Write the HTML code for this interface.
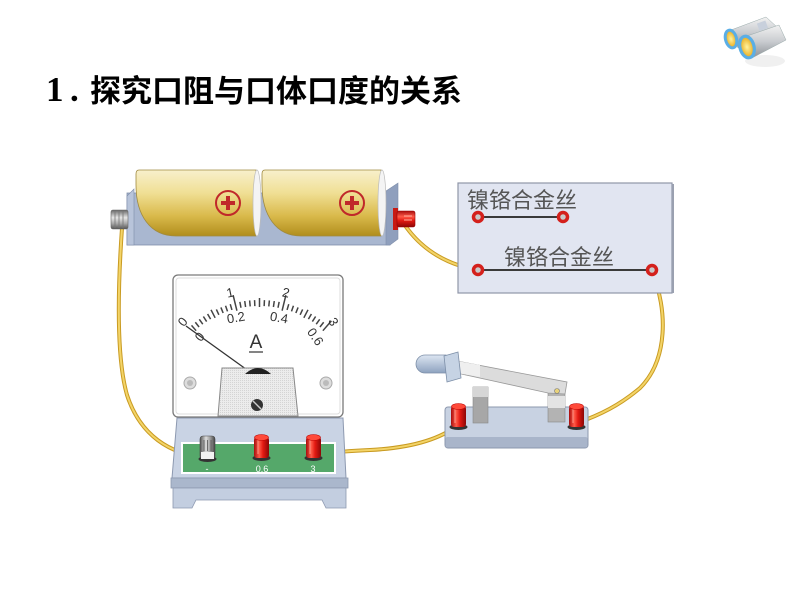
<!DOCTYPE html>
<html><head><meta charset="utf-8"><style>
html,body{margin:0;padding:0;background:#fff;}
#c{position:relative;width:800px;height:600px;overflow:hidden;background:#fff;}
.t{position:absolute;white-space:nowrap;color:#000;}
</style></head><body><div id="c">
<div class="t" style="left:46px;top:70px;font:bold 35px/40px 'Liberation Serif',serif;">1</div>
<div class="t" style="left:70px;top:70px;font:bold 35px/40px 'Liberation Serif',serif;">.</div>
<div class="t" style="left:90px;top:76px;font-weight:bold;font-size:31px;line-height:31px;font-family:'Liberation Sans','Noto Sans CJK SC',sans-serif;">探究口阻与口体口度的关系</div>
<svg width="800" height="600" viewBox="0 0 800 600" style="position:absolute;left:0;top:0" xmlns="http://www.w3.org/2000/svg">
<defs>
<linearGradient id="bat" x1="0" y1="0" x2="0" y2="1">
<stop offset="0" stop-color="#f8f0cc"/><stop offset="0.35" stop-color="#f0df94"/><stop offset="0.7" stop-color="#d9b94a"/><stop offset="1" stop-color="#b08d1c"/></linearGradient>
<linearGradient id="red" x1="0" y1="0" x2="1" y2="0">
<stop offset="0" stop-color="#a80d0d"/><stop offset="0.35" stop-color="#ff5a48"/><stop offset="0.6" stop-color="#e31a12"/><stop offset="1" stop-color="#8c0606"/></linearGradient>
<linearGradient id="redh" x1="0" y1="0" x2="0" y2="1">
<stop offset="0" stop-color="#a80d0d"/><stop offset="0.35" stop-color="#ff5a48"/><stop offset="0.6" stop-color="#e31a12"/><stop offset="1" stop-color="#8c0606"/></linearGradient>
<linearGradient id="grey" x1="0" y1="0" x2="1" y2="0">
<stop offset="0" stop-color="#555"/><stop offset="0.4" stop-color="#ddd"/><stop offset="0.7" stop-color="#999"/><stop offset="1" stop-color="#444"/></linearGradient>
<linearGradient id="greyh" x1="0" y1="0" x2="0" y2="1">
<stop offset="0" stop-color="#666"/><stop offset="0.4" stop-color="#e6e6e6"/><stop offset="0.7" stop-color="#aaa"/><stop offset="1" stop-color="#555"/></linearGradient>
<linearGradient id="silver" x1="0" y1="0" x2="0" y2="1">
<stop offset="0" stop-color="#f2f2f2"/><stop offset="0.5" stop-color="#c9ccd0"/><stop offset="1" stop-color="#8d9196"/></linearGradient>
<radialGradient id="lens" cx="0.5" cy="0.5" r="0.5">
<stop offset="0" stop-color="#fff3a0"/><stop offset="1" stop-color="#e7a918"/></radialGradient>
<linearGradient id="handle" x1="0" y1="0" x2="0" y2="1">
<stop offset="0" stop-color="#dde6f2"/><stop offset="1" stop-color="#8ea2bf"/></linearGradient>
<pattern id="dots" width="2" height="2" patternUnits="userSpaceOnUse">
<rect width="2" height="2" fill="#ececec"/><rect width="1" height="1" fill="#d4d4d4"/></pattern>
<g id="rt">
<ellipse cx="8.5" cy="24" rx="9" ry="3" fill="#333"/>
<rect x="1" y="3" width="15" height="21" rx="3" fill="url(#red)"/>
<line x1="5" y1="6" x2="5" y2="20" stroke="#ff9a8a" stroke-width="1"/>
<ellipse cx="8.5" cy="3.5" rx="7" ry="3" fill="#ff4a3a" stroke="#b00" stroke-width="0.6"/>
</g>
</defs>

<!-- binoculars -->
<ellipse cx="765" cy="61" rx="20" ry="6" fill="#f0f0f0"/>
<polygon points="731,30 766,17 777,27 738,48" fill="url(#silver)" stroke="#9aa" stroke-width="0.5"/>
<polygon points="747,36 779,25 786,40 752,58" fill="url(#silver)" stroke="#9aa" stroke-width="0.5"/>
<rect x="758" y="22" width="9" height="8" fill="#c8d0dc" transform="rotate(-20 762 26)"/>
<ellipse cx="731" cy="39" rx="5.5" ry="9" fill="url(#lens)" stroke="#5aaee6" stroke-width="3" transform="rotate(-15 731 39)"/>
<ellipse cx="747" cy="47" rx="7" ry="11" fill="url(#lens)" stroke="#5aaee6" stroke-width="3.2" transform="rotate(-15 747 47)"/>

<!-- wires -->
<g fill="none" stroke-linecap="round">
<path d="M122,228 C117,300 117,360 127,395 C140,435 170,455 206,457" stroke="#c99b22" stroke-width="4"/>
<path d="M122,228 C117,300 117,360 127,395 C140,435 170,455 206,457" stroke="#f3d468" stroke-width="2"/>
<path d="M404,224 Q430,262 478,270" stroke="#c99b22" stroke-width="4"/>
<path d="M404,224 Q430,262 478,270" stroke="#f3d468" stroke-width="2"/>
<path d="M652,272 C668,310 668,360 640,388 C620,405 600,415 577,423" stroke="#c99b22" stroke-width="4"/>
<path d="M652,272 C668,310 668,360 640,388 C620,405 600,415 577,423" stroke="#f3d468" stroke-width="2"/>
<path d="M458,425 Q430,447 370,450 T312,457" stroke="#c99b22" stroke-width="4"/>
<path d="M458,425 Q430,447 370,450 T312,457" stroke="#f3d468" stroke-width="2"/>
</g>

<!-- battery holder -->
<rect x="127" y="193" width="263" height="52" fill="#a9b7d0" stroke="#7f8eaa" stroke-width="0.8"/>
<polygon points="127,196 134,189 134,245 127,245" fill="#b8c4da" stroke="#7f8eaa" stroke-width="0.6"/>
<polygon points="386,191 398,183 398,239 390,245 386,245" fill="#8f9fbd" stroke="#7f8eaa" stroke-width="0.6"/>
<!-- cells -->
<path d="M139,170 H256 V236 H176 C150,236 136,215 136,185 V174 Q136,170 139,170 Z" fill="url(#bat)" stroke="#a08a40" stroke-width="0.8"/>
<ellipse cx="257" cy="203" rx="4" ry="33" fill="#f4f4f4" stroke="#bbb" stroke-width="0.7"/>
<path d="M265,170 H381 V236 H301 C276,236 262,215 262,185 V174 Q262,170 265,170 Z" fill="url(#bat)" stroke="#a08a40" stroke-width="0.8"/>
<ellipse cx="382" cy="203" rx="4" ry="33" fill="#f4f4f4" stroke="#bbb" stroke-width="0.7"/>
<g stroke="#c0282a" fill="none">
<circle cx="228" cy="203" r="12" stroke-width="2"/>
<circle cx="352" cy="203" r="12" stroke-width="2"/>
<path d="M221,203 H235 M228,196 V210 M345,203 H359 M352,196 V210" stroke-width="4"/>
</g>
<!-- battery terminals -->
<rect x="111" y="210" width="17" height="19" rx="2" fill="url(#greyh)" stroke="#666" stroke-width="0.6"/>
<path d="M115,211 V228 M119,211 V228 M123,211 V228" stroke="#777" stroke-width="0.8"/>
<rect x="393" y="208" width="5" height="22" fill="#c81a14"/>
<rect x="397" y="211" width="18" height="16" rx="2" fill="url(#redh)" stroke="#900" stroke-width="0.6"/>
<path d="M404,216 H412 M404,220 H412" stroke="#ffb0a0" stroke-width="1"/>

<!-- resistance panel -->
<rect x="458" y="183" width="214" height="110" fill="#e1e5f1" stroke="#8f96a8" stroke-width="1.2"/>
<line x1="673" y1="184" x2="673" y2="293" stroke="#9aa0b0" stroke-width="2"/>
<text x="467" y="208" font-family="'Liberation Sans','Noto Sans CJK SC',sans-serif" font-size="22" fill="#555">镍铬合金丝</text>
<text x="504" y="265" font-family="'Liberation Sans','Noto Sans CJK SC',sans-serif" font-size="22" fill="#555">镍铬合金丝</text>
<line x1="478" y1="217" x2="563" y2="217" stroke="#3a3a3a" stroke-width="2"/>
<line x1="478" y1="270" x2="652" y2="270" stroke="#3a3a3a" stroke-width="2"/>
<g fill="#c9c9c9" stroke="#d4201c" stroke-width="3.5">
<circle cx="478" cy="217" r="4.5"/><circle cx="563" cy="217" r="4.5"/>
<circle cx="478" cy="270" r="4.5"/><circle cx="652" cy="270" r="4.5"/>
</g>

<!-- switch -->
<rect x="445" y="407" width="143" height="41" rx="3" fill="#c8d2e2" stroke="#8c98ae" stroke-width="1"/>
<rect x="445.5" y="437" width="142" height="10.5" rx="2" fill="#a9b5ca"/>
<rect x="473" y="387" width="15" height="36" fill="#a7a7a7" stroke="#888" stroke-width="0.6"/>
<rect x="473" y="387" width="15" height="10" fill="#d6d6d6"/>
<rect x="548" y="385" width="17" height="37" fill="#b3b3b3" stroke="#888" stroke-width="0.6"/>
<rect x="548" y="396" width="17" height="12" fill="#e3e3e3"/>
<polygon points="457,361 567,382 565,394 548,393 457,373" fill="#dcdcdc" stroke="#999" stroke-width="0.8"/>
<polygon points="457,361 480,365 480,377 457,373" fill="#efefef"/>
<circle cx="557" cy="391" r="2.5" fill="#e8d27a" stroke="#777" stroke-width="0.6"/>
<path d="M425,355 H446 V373 H425 A9,9 0 0 1 425,355 Z" fill="url(#handle)" stroke="#7d8fa8" stroke-width="0.8"/>
<polygon points="444,356 458,352 461,378 447,382" fill="#c6d3e4" stroke="#7d8fa8" stroke-width="0.8"/>
<use href="#rt" x="450" y="403"/>
<use href="#rt" x="568" y="403"/>

<!-- ammeter base -->
<polygon points="177,418 343,418 346,478 172,478" fill="#c9d3e4" stroke="#8d99b0" stroke-width="1"/>
<rect x="171" y="478" width="177" height="10" fill="#aab7cc" stroke="#8d99b0" stroke-width="0.8"/>
<path d="M173,488 H346 V508 H326 L322,500 H196 L192,508 H173 Z" fill="#c3cee0" stroke="#8d99b0" stroke-width="0.8"/>
<rect x="182" y="443" width="153" height="30" fill="#55a86a" stroke="#fff" stroke-width="2"/>
<text x="207" y="472" font-family="'Liberation Sans',sans-serif" font-size="9" fill="#fff" text-anchor="middle">-</text>
<text x="262" y="472" font-family="'Liberation Sans',sans-serif" font-size="9" fill="#fff" text-anchor="middle">0.6</text>
<text x="313" y="472" font-family="'Liberation Sans',sans-serif" font-size="9" fill="#fff" text-anchor="middle">3</text>
<!-- negative terminal -->
<ellipse cx="207.5" cy="459" rx="9" ry="3" fill="#333"/>
<rect x="200" y="436" width="15" height="23" rx="3" fill="url(#grey)" stroke="#444" stroke-width="0.6"/>
<rect x="201" y="452" width="13" height="7" fill="#f2f2f2"/>
<path d="M204,440 V451 M207.5,440 V451 M211,440 V451" stroke="#555" stroke-width="0.8"/>
<use href="#rt" x="253" y="434"/>
<use href="#rt" x="305" y="434"/>

<!-- ammeter face -->
<rect x="173" y="275" width="170" height="142" rx="5" fill="#fff" stroke="#7a7a7a" stroke-width="1.3"/>
<rect x="176" y="278" width="164" height="136" rx="3" fill="none" stroke="#ddd" stroke-width="1"/>
<g stroke="#444" stroke-width="1.5">
<line x1="259.5" y1="300" x2="259.5" y2="307" transform="rotate(-41 259.5 403.6)"/>
<line x1="259.5" y1="300" x2="259.5" y2="306" transform="rotate(-38.27 259.5 403.6)"/>
<line x1="259.5" y1="300" x2="259.5" y2="306" transform="rotate(-35.53 259.5 403.6)"/>
<line x1="259.5" y1="300" x2="259.5" y2="306" transform="rotate(-32.8 259.5 403.6)"/>
<line x1="259.5" y1="300" x2="259.5" y2="306" transform="rotate(-30.07 259.5 403.6)"/>
<line x1="259.5" y1="298" x2="259.5" y2="307" transform="rotate(-27.33 259.5 403.6)"/>
<line x1="259.5" y1="300" x2="259.5" y2="306" transform="rotate(-24.6 259.5 403.6)"/>
<line x1="259.5" y1="300" x2="259.5" y2="306" transform="rotate(-21.87 259.5 403.6)"/>
<line x1="259.5" y1="300" x2="259.5" y2="306" transform="rotate(-19.13 259.5 403.6)"/>
<line x1="259.5" y1="300" x2="259.5" y2="306" transform="rotate(-16.4 259.5 403.6)"/>
<line x1="259.5" y1="292" x2="259.5" y2="308" transform="rotate(-13.67 259.5 403.6)"/>
<line x1="259.5" y1="300" x2="259.5" y2="306" transform="rotate(-10.93 259.5 403.6)"/>
<line x1="259.5" y1="300" x2="259.5" y2="306" transform="rotate(-8.2 259.5 403.6)"/>
<line x1="259.5" y1="300" x2="259.5" y2="306" transform="rotate(-5.47 259.5 403.6)"/>
<line x1="259.5" y1="300" x2="259.5" y2="306" transform="rotate(-2.73 259.5 403.6)"/>
<line x1="259.5" y1="298" x2="259.5" y2="307" transform="rotate(0 259.5 403.6)"/>
<line x1="259.5" y1="300" x2="259.5" y2="306" transform="rotate(2.73 259.5 403.6)"/>
<line x1="259.5" y1="300" x2="259.5" y2="306" transform="rotate(5.47 259.5 403.6)"/>
<line x1="259.5" y1="300" x2="259.5" y2="306" transform="rotate(8.2 259.5 403.6)"/>
<line x1="259.5" y1="300" x2="259.5" y2="306" transform="rotate(10.93 259.5 403.6)"/>
<line x1="259.5" y1="292" x2="259.5" y2="308" transform="rotate(13.67 259.5 403.6)"/>
<line x1="259.5" y1="300" x2="259.5" y2="306" transform="rotate(16.4 259.5 403.6)"/>
<line x1="259.5" y1="300" x2="259.5" y2="306" transform="rotate(19.13 259.5 403.6)"/>
<line x1="259.5" y1="300" x2="259.5" y2="306" transform="rotate(21.87 259.5 403.6)"/>
<line x1="259.5" y1="300" x2="259.5" y2="306" transform="rotate(24.6 259.5 403.6)"/>
<line x1="259.5" y1="298" x2="259.5" y2="307" transform="rotate(27.33 259.5 403.6)"/>
<line x1="259.5" y1="300" x2="259.5" y2="306" transform="rotate(30.07 259.5 403.6)"/>
<line x1="259.5" y1="300" x2="259.5" y2="306" transform="rotate(32.8 259.5 403.6)"/>
<line x1="259.5" y1="300" x2="259.5" y2="306" transform="rotate(35.53 259.5 403.6)"/>
<line x1="259.5" y1="300" x2="259.5" y2="306" transform="rotate(38.27 259.5 403.6)"/>
<line x1="259.5" y1="294" x2="259.5" y2="307" transform="rotate(41 259.5 403.6)"/>
</g>
<g font-family="'Liberation Sans',sans-serif" font-size="13" fill="#333" text-anchor="middle">
<text x="231" y="297" transform="rotate(-12 231 297)">1</text>
<text x="285" y="297" transform="rotate(12 285 297)">2</text>
<text x="183" y="326" transform="rotate(-50 183 322)">0</text>
<text x="333" y="326" transform="rotate(60 333 322)">3</text>
<text x="236" y="322" transform="rotate(-10 236 318)">0.2</text>
<text x="279" y="322" transform="rotate(10 279 318)">0.4</text>
<text x="315" y="341" transform="rotate(55 315 337)">0.6</text>
<text x="200" y="341" transform="rotate(-50 200 337)">0</text>
<text x="256" y="348" font-size="19">A</text>
</g>
<line x1="249" y1="352" x2="263" y2="352" stroke="#333" stroke-width="1.2"/>
<line x1="186" y1="326" x2="250" y2="372" stroke="#333" stroke-width="1.3"/>
<circle cx="190" cy="383" r="6" fill="#ddd" stroke="#aaa" stroke-width="1"/>
<circle cx="190" cy="383" r="3" fill="#bbb"/>
<circle cx="326" cy="383" r="6" fill="#ddd" stroke="#aaa" stroke-width="1"/>
<circle cx="326" cy="383" r="3" fill="#bbb"/>
<polygon points="222,368 293,368 298,416 218,416" fill="url(#dots)" stroke="#888" stroke-width="1"/>
<path d="M245,374 Q258,362 271,374 Z" fill="#222"/>
<circle cx="257" cy="405" r="6" fill="#333"/>
<line x1="253" y1="401" x2="261" y2="409" stroke="#ccc" stroke-width="1.5"/>
</svg>
</div></body></html>
